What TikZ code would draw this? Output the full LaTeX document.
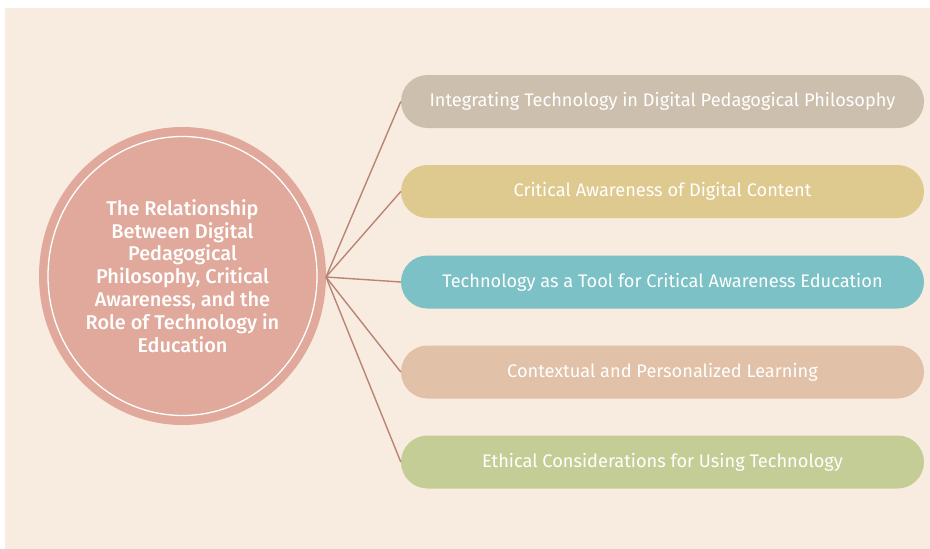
\documentclass[tikz,border=0pt]{standalone}
\usepackage{fontspec}
\setmainfont{Fira Sans}[BoldFont=* Medium]
\definecolor{paper}{HTML}{F8ECE0}
\definecolor{hub}{HTML}{E0A99B}
\definecolor{spoke}{HTML}{B98474}
\definecolor{pillA}{HTML}{CDBFAE}
\definecolor{pillB}{HTML}{DEC98F}
\definecolor{pillC}{HTML}{7BC1C5}
\definecolor{pillD}{HTML}{E1C1A7}
\definecolor{pillE}{HTML}{C5CD96}
\tikzset{
  pill/.style={rounded rectangle, minimum width=523pt, minimum height=53pt,
    inner sep=0pt, text=white, font=\fontsize{18.2}{21}\selectfont},
  spokeline/.style={draw=spoke, line width=1.4pt},
}
\usetikzlibrary{shapes.misc}
\begin{document}
\begin{tikzpicture}[x=1pt,y=-1pt]
  \useasboundingbox (0,0) rectangle (930,549);
  \fill[white] (0,0) rectangle (930,549);
  \fill[paper] (5,8) rectangle (930,549);

  % central topic
  \fill[hub] (182.5,276) ellipse [x radius=143.5, y radius=149];
  \draw[white, line width=1.3pt] (182.5,276) ellipse [x radius=134.5, y radius=139.5];
  \node[align=center, text=white, font=\bfseries\fontsize{19.9}{22.8}\selectfont]
    (hub) at (182.5,276) {The Relationship\\Between Digital\\Pedagogical\\Philosophy, Critical\\Awareness, and the\\Role of Technology in\\Education};
  \coordinate (hubR) at (326,277);

  % branches
  \node[pill, fill=pillA] (p1) at (662.5,101.5) {Integrating Technology in Digital Pedagogical Philosophy};
  \node[pill, fill=pillB] (p2) at (662.5,191.5) {Critical Awareness of Digital Content};
  \node[pill, fill=pillC] (p3) at (662.5,282) {Technology as a Tool for Critical Awareness Education};
  \node[pill, fill=pillD] (p4) at (662.5,372) {Contextual and Personalized Learning};
  \node[pill, fill=pillE] (p5) at (662.5,462) {Ethical Considerations for Using Technology};

  \foreach \p in {p1,p2,p3,p4,p5}
    \draw[spokeline] (hubR) -- (\p.west);
\end{tikzpicture}
\end{document}
